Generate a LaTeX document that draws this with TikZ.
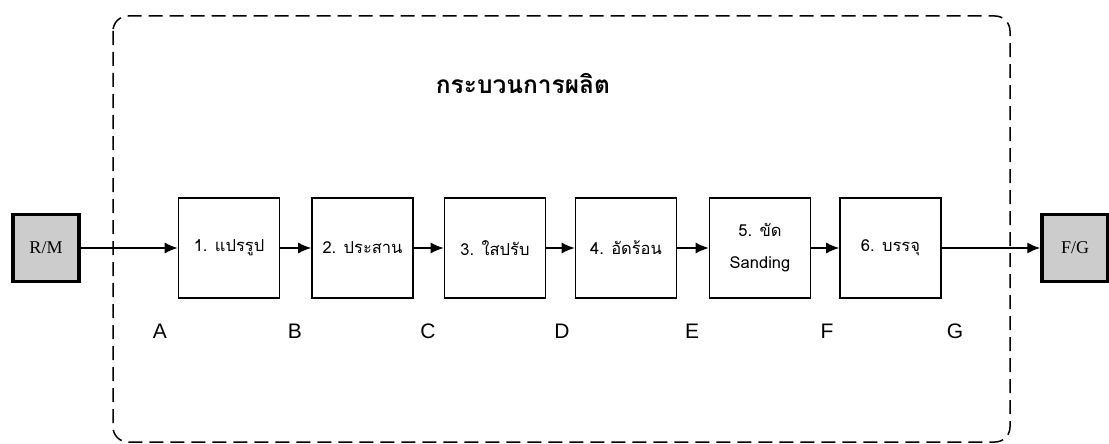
\documentclass[tikz,border=0pt]{standalone}
\usepackage{fontspec}
\setmainfont{Liberation Sans}
\newfontfamily\thaifont[Script=Thai]{Loma}
\newfontfamily\rmserif{Liberation Serif}
\usetikzlibrary{arrows.meta,patterns}
\tikzset{
  procbox/.style={draw, line width=1.6pt, minimum width=101pt, minimum height=100pt, inner sep=0pt, font=\thaifont\fontsize{16.5}{32}\selectfont, align=center},
  endbox/.style={draw, line width=3.5pt, fill=black!20, minimum width=66pt, minimum height=67pt, inner sep=0pt, font=\rmserif\fontsize{18}{20}\selectfont},
  flow/.style={line width=1.4pt, -{Latex[length=13pt,width=11pt]}},
  zone/.style={line width=1.5pt, dash pattern=on 14pt off 7pt, rounded corners=15pt},
  point/.style={font=\fontsize{21}{24}\selectfont, anchor=base, inner sep=0pt},
}
\begin{document}
\begin{tikzpicture}[x=1pt,y=-1pt]
\useasboundingbox (0,0) rectangle (1109,444);
\draw[zone] (113,16) rectangle (1010,442);
\node[font=\thaifont\bfseries\fontsize{24.5}{30}\selectfont, anchor=base, inner sep=0pt] (title) at (523,94) {กระบวนการผลิต};
\node[endbox] (rm) at (46,248) {R/M};
\node[endbox] (fg) at (1075,248) {F/G};
\node[procbox] (b1) at (229,248) {1. แปรรูป};
\node[procbox] (b2) at (362.5,248) {2. ประสาน};
\node[procbox] (b3) at (495,248) {3. ใสปรับ};
\node[procbox] (b4) at (626,248) {4. อัดร้อน};
\node[procbox] (b5) at (760,248) {5. ขัด\\Sanding};
\node[procbox] (b6) at (890.5,248) {6. บรรจุ};
\draw[flow] (rm) -- (b1);
\draw[flow] (b1) -- (b2);
\draw[flow] (b2) -- (b3);
\draw[flow] (b3) -- (b4);
\draw[flow] (b4) -- (b5);
\draw[flow] (b5) -- (b6);
\draw[flow] (b6) -- (fg);
\node[point] (pA) at (160,338) {A};
\node[point] (pB) at (295,338) {B};
\node[point] (pC) at (428,338) {C};
\node[point] (pD) at (562,338) {D};
\node[point] (pE) at (692,338) {E};
\node[point] (pF) at (827,338) {F};
\node[point] (pG) at (955,338) {G};
\end{tikzpicture}
\end{document}
